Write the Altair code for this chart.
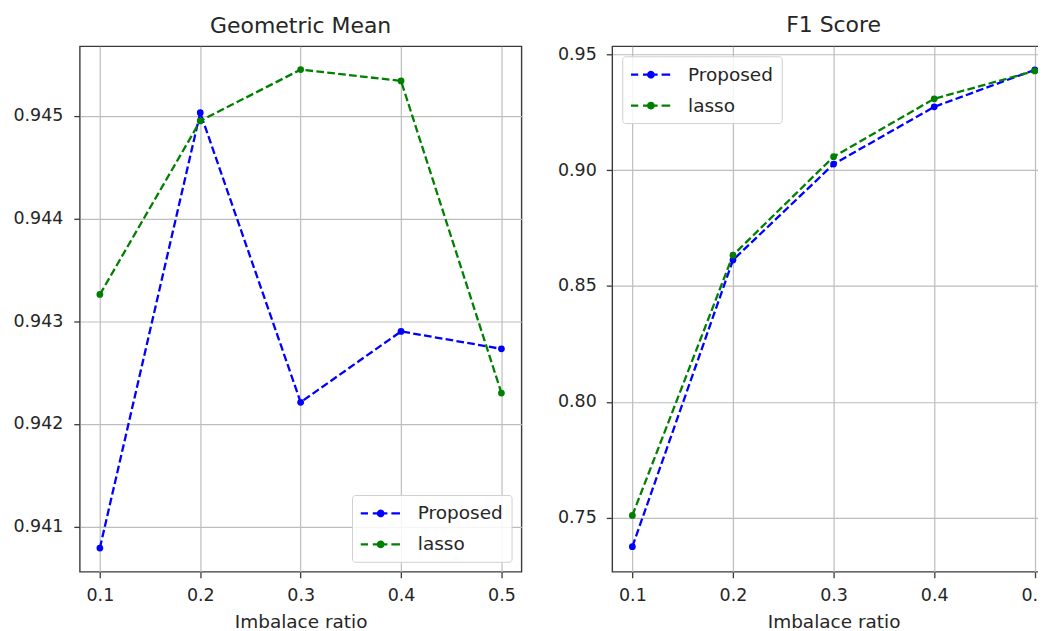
import altair as alt
import pandas as pd

ratios = [0.1, 0.2, 0.3, 0.4, 0.5]
methods = ["Proposed", "lasso"]
colors = ["#0000ff", "#008000"]

gm_proposed = [0.94079, 0.94503, 0.94221, 0.94290, 0.94273]
gm_lasso = [0.94326, 0.94495, 0.94545, 0.94534, 0.94230]
f1_proposed = [0.7375, 0.8612, 0.9026, 0.9273, 0.9433]
f1_lasso = [0.7510, 0.8633, 0.9058, 0.9308, 0.9428]

gm_ticks = [0.941, 0.942, 0.943, 0.944, 0.945]
f1_ticks = [0.75, 0.80, 0.85, 0.90, 0.95]

FONT = "DejaVu Sans"
TXT = "#262626"
FRAME = "#3a3a3a"


def long_df(prop, lasso):
    rows = []
    for x, v in zip(ratios, prop):
        rows.append({"ratio": x, "value": v, "method": "Proposed"})
    for x, v in zip(ratios, lasso):
        rows.append({"ratio": x, "value": v, "method": "lasso"})
    return pd.DataFrame(rows)


df_gm = long_df(gm_proposed, gm_lasso)
df_f1 = long_df(f1_proposed, f1_lasso)

# legend handle: dashed line with a dot (units of symbol radius = 9px)
SYM = ("M-1.08,0H-0.27M0.26,0H1.89M2.33,0H3.29"
       "M1.24,0A0.1,0.1 0 1 1 1.04,0A0.1,0.1 0 1 1 1.24,0"
       "M1.45,0A0.31,0.31 0 1 1 0.83,0A0.31,0.31 0 1 1 1.45,0")


def panel(df, title, ydom, yticks, yfmt, width, lorient, ext, lpad):
    color = alt.Color(
        "method:N",
        scale=alt.Scale(domain=methods, range=colors),
        legend=alt.Legend(
            title=None, orient=lorient, offset=10,
            symbolType=SYM, symbolSize=324, symbolStrokeWidth=2.2,
            symbolDash=[1, 0], symbolOpacity=1,
            labelFont=FONT, labelFontSize=18.5, labelColor=TXT,
            labelOffset=37, padding=8, rowPadding=11,
            fillColor="rgba(255,255,255,0.85)", strokeColor="#d0d0d0",
            cornerRadius=3,
        ),
    )
    base = alt.Chart(df).encode(
        x=alt.X(
            "ratio:Q",
            scale=alt.Scale(domain=[0.08, 0.52], nice=False, zero=False),
            axis=alt.Axis(
                values=ratios, format=".1f", title="Imbalace ratio",
                tickSize=6, labelPadding=8.6, titlePadding=8.6,
                labelFlush=False, domain=False,
            ),
        ),
        y=alt.Y(
            "value:Q",
            scale=alt.Scale(domain=ydom, nice=False, zero=False),
            axis=alt.Axis(
                values=yticks, format=yfmt, title=None,
                tickSize=6, labelPadding=lpad, domain=False,
                minExtent=ext, maxExtent=ext,
            ),
        ),
        color=color,
    )
    line = base.mark_line(strokeDash=[7.7, 3.3], strokeWidth=2.3, clip=True)
    pts = base.mark_point(filled=True, size=46, opacity=1, clip=True)
    return alt.layer(line, pts).properties(
        width=width, height=527,
        title=alt.TitleParams(
            title, fontSize=22, font=FONT, fontWeight="normal", color=TXT,
            anchor="middle", frame="group", offset=8,
        ),
    )


left = panel(df_gm, "Geometric Mean", [0.940559, 0.945677], gm_ticks, ".3f",
             443, "bottom-right", 71, 11)
right = panel(df_f1, "F1 Score", [0.72667, 0.95344], f1_ticks, ".2f",
              444, "top-left", 57, 10)

chart = alt.hconcat(left, right, spacing=32).configure(
    padding={"left": 0, "top": 4.5, "right": -18, "bottom": 0},
    background="white",
).configure_view(
    stroke=FRAME, strokeWidth=1.4,
).configure_axis(
    labelFont=FONT, labelFontSize=17.5, labelColor=TXT,
    titleFont=FONT, titleFontSize=18.5, titleFontWeight="normal", titleColor=TXT,
    tickColor=FRAME, tickWidth=1.3,
    grid=True, gridColor="#bdbdbd", gridWidth=1.2,
)

chart.save("out.html", embed_options={"renderer": "svg", "actions": False})
